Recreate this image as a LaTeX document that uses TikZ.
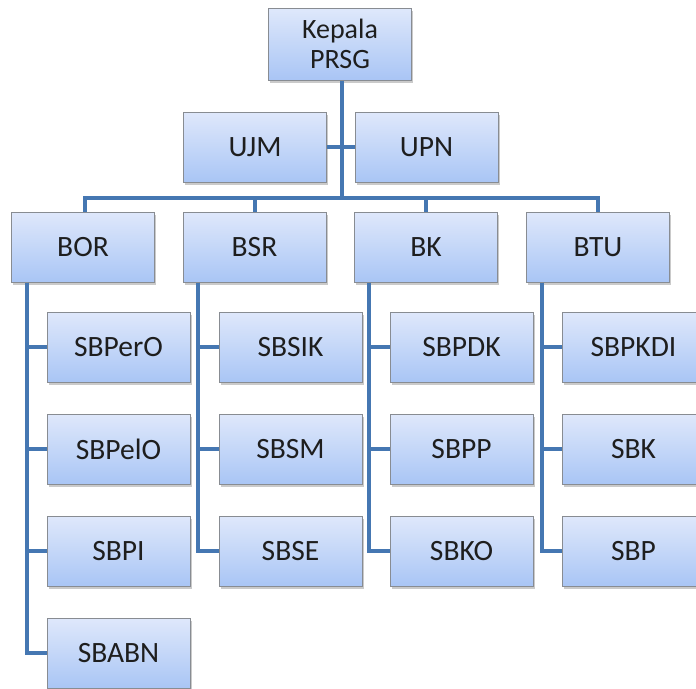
\documentclass[tikz,border=0pt]{standalone}
\usepackage{fontspec}
\setmainfont{Carlito}
\usetikzlibrary{shadows}
\definecolor{linkblue}{HTML}{4577B2}
\definecolor{boxtop}{HTML}{DFE8FB}
\definecolor{boxbot}{HTML}{A9C5F5}
\definecolor{boxedge}{HTML}{888C92}
\definecolor{txt}{HTML}{1E1E1E}
\tikzset{
  orgbox/.style={draw=boxedge, line width=1pt, top color=boxtop, bottom color=boxbot,
    minimum width=143pt, minimum height=70pt, inner sep=0pt, text=txt,
    font=\fontsize{29.5}{30}\selectfont,
    drop shadow={shadow xshift=1.5pt, shadow yshift=-3pt, opacity=0.35, fill=black!60}},
  link/.style={draw=linkblue, line width=4pt, line join=miter}
}
\begin{document}
\begin{tikzpicture}[x=1pt,y=-1pt]
\useasboundingbox (0,0) rectangle (696,688);
\clip (0,0) rectangle (696,688);
% nodes
\node[orgbox, minimum height=72pt, align=center, font=\fontsize{28}{30}\selectfont] (kep) at (340,44) {Kepala\\PRSG};
\node[orgbox] (ujm) at (255,147) {UJM};
\node[orgbox] (upn) at (426.5,147) {UPN};
\coordinate (bus) at (342,198);
\node[orgbox] (bor) at (83,247) {BOR};
\node[orgbox] (bsr) at (254.5,247) {BSR};
\node[orgbox] (bk) at (426,247) {BK};
\node[orgbox] (btu) at (598,247) {BTU};
\node[orgbox] (sbpero) at (118.5,347) {SBPerO};
\node[orgbox] (sbpelo) at (118.5,449) {SBPelO};
\node[orgbox] (sbpi) at (118.5,551) {SBPI};
\node[orgbox] (sbabn) at (118.5,653) {SBABN};
\node[orgbox] (sbsik) at (290.5,347) {SBSIK};
\node[orgbox] (sbsm) at (290.5,449) {SBSM};
\node[orgbox] (sbse) at (290.5,551) {SBSE};
\node[orgbox] (sbpdk) at (461.5,347) {SBPDK};
\node[orgbox] (sbpp) at (461.5,449) {SBPP};
\node[orgbox] (sbko) at (461.5,551) {SBKO};
\node[orgbox] (sbpkdi) at (633.5,347) {SBPKDI};
\node[orgbox] (sbk) at (633.5,449) {SBK};
\node[orgbox] (sbp) at (633.5,551) {SBP};
% connectors
\draw[link] ([xshift=2pt]kep.south) -- ([xshift=2pt]kep.south |- bus);
\draw[link] (ujm.east) -- (upn.west);
\draw[link] ([xshift=2pt]bor.north) |- (bus) -| (btu.north);
\draw[link] (bsr.north) -- (bsr.north |- bus);
\draw[link] (bk.north) -- (bk.north |- bus);
% BOR column
\draw[link] ([xshift=16pt]bor.south west) |- (sbabn.west);
\draw[link] ([xshift=16pt]bor.south west) |- (sbpero.west);
\draw[link] ([xshift=16pt]bor.south west) |- (sbpelo.west);
\draw[link] ([xshift=16pt]bor.south west) |- (sbpi.west);
% BSR column
\draw[link] ([xshift=15pt]bsr.south west) |- (sbse.west);
\draw[link] ([xshift=15pt]bsr.south west) |- (sbsik.west);
\draw[link] ([xshift=15pt]bsr.south west) |- (sbsm.west);
% BK column
\draw[link] ([xshift=15pt]bk.south west) |- (sbko.west);
\draw[link] ([xshift=15pt]bk.south west) |- (sbpdk.west);
\draw[link] ([xshift=15pt]bk.south west) |- (sbpp.west);
% BTU column
\draw[link] ([xshift=16pt]btu.south west) |- (sbp.west);
\draw[link] ([xshift=16pt]btu.south west) |- (sbpkdi.west);
\draw[link] ([xshift=16pt]btu.south west) |- (sbk.west);
\end{tikzpicture}
\end{document}
